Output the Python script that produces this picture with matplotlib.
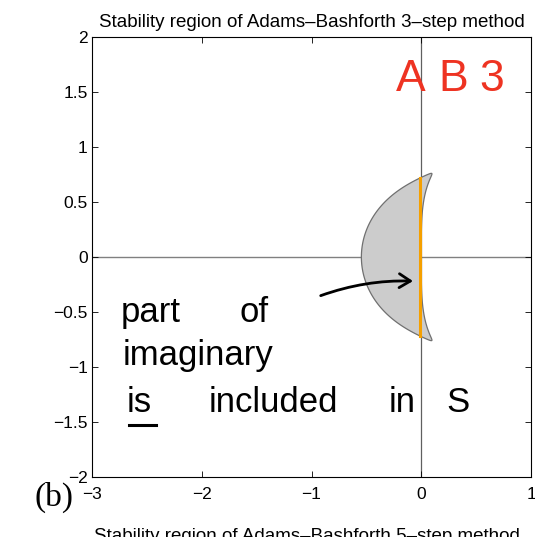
import numpy as np
import matplotlib
matplotlib.use("Agg")
import matplotlib.pyplot as plt
from matplotlib.patches import FancyArrowPatch

# AB3 method: rho(z) = z^3 - z^2, sigma(z) = (23 z^2 - 16 z + 5)/12
rho_coeffs = [1.0, -1.0, 0.0, 0.0]
sigma_coeffs = [0.0, 23/12, -16/12, 5/12]
x_ticks = [-3, -2, -1, 0, 1]
y_ticks = [-2, -1.5, -1, -0.5, 0, 0.5, 1, 1.5, 2]
x_tick_labels = ["\u22123", "\u22122", "\u22121", "0", "1"]
y_tick_labels = ["\u22122", "\u22121.5", "\u22121", "\u22120.5", "0", "0.5", "1", "1.5", "2"]
imag_segment = [-0.72, 0.72]

theta = np.linspace(0, 2*np.pi, 800)
zeta = np.exp(1j*theta)
z = np.polyval(rho_coeffs, zeta) / np.polyval(sigma_coeffs, zeta)

plt.rcParams['font.family'] = ['Liberation Sans', 'DejaVu Sans']
fig = plt.figure(figsize=(5.35, 5.37), dpi=100)
ax = fig.add_axes([92/535, 1-477/537, (531-92)/535, 440/537])

ax.axhline(0, color='#808080', lw=1.0, zorder=1)
ax.axvline(0, color='#606060', lw=0.9, zorder=1)
ax.fill(z.real, z.imag, facecolor='#cccccc', edgecolor='#707070', lw=0.9, zorder=2)
ax.plot([-0.01, -0.01], imag_segment, color='#f5a000', lw=2.2, zorder=3)

ax.set_xlim(-3, 1)
ax.set_ylim(-2, 2)
ax.set_xticks(x_ticks)
ax.set_xticklabels(x_tick_labels)
ax.set_yticks(y_ticks)
ax.set_yticklabels(y_tick_labels)
ax.tick_params(direction='in', top=True, right=True, length=4, width=0.6,
               labelsize=12.5, colors='black')
ax.tick_params(axis='x', pad=7)
ax.tick_params(axis='y', pad=3)
for s in ax.spines.values():
    s.set_linewidth(0.8)
ax.set_title("Stability region of Adams\u2013Bashforth 3\u2013step method",
             fontsize=13.5, pad=7)

# handwritten-like annotations
hand = dict(color='black', fontsize=25, va='baseline')
ax.text(-2.74, -0.59, "part", **hand)
ax.text(-1.66, -0.59, "of", **hand)
ax.text(-2.72, -0.98, "imaginary", **hand)
ax.text(-2.68, -1.41, "is", **hand)
ax.text(-1.94, -1.41, "included", **hand)
ax.text(-0.30, -1.41, "in", **hand)
ax.text(0.23, -1.41, "S", **hand)
ax.plot([-2.66, -2.42], [-1.53, -1.53], color='black', lw=2.2)
red = dict(color='#ee3322', fontsize=32, va='center', ha='center')
ax.text(-0.10, 1.61, "A", **red)
ax.text(0.29, 1.61, "B", **red)
ax.text(0.64, 1.61, "3", **red)
arr = FancyArrowPatch((-0.94, -0.36), (-0.05, -0.22), arrowstyle='->,head_length=8,head_width=5',
                      connectionstyle='arc3,rad=-0.1', color='black', lw=2, zorder=4)
ax.add_patch(arr)

fig.text(34/535, 1-497/537, "(b)", fontsize=24, family=['Liberation Serif'], va='center')
fig.text(307/535, 1-541/537, "Stability region of Adams\u2013Bashforth 5\u2013step method",
         fontsize=13.5, ha='center', va='baseline')

fig.savefig("out.png", dpi=100)
